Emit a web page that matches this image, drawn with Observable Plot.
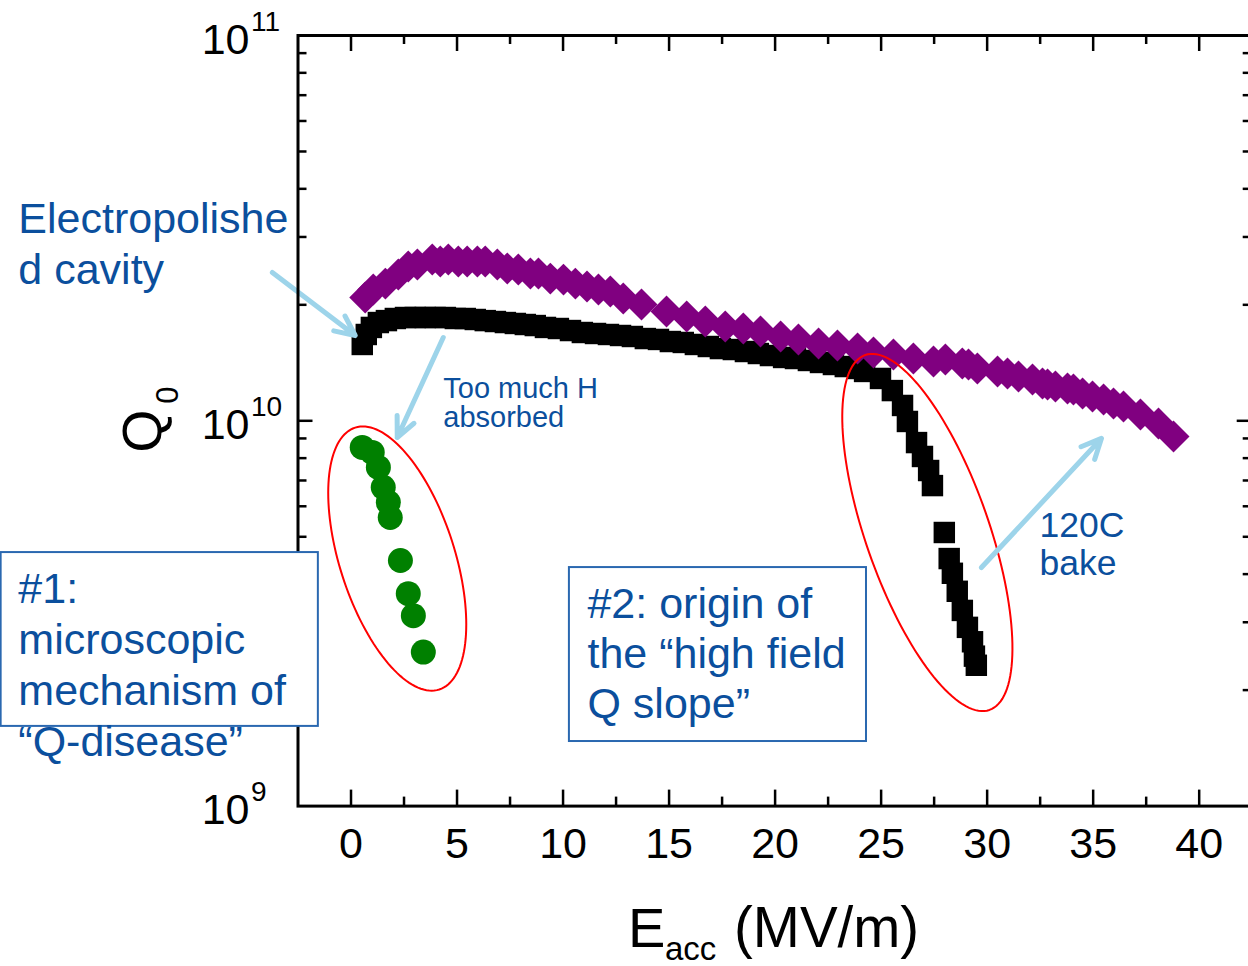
<!DOCTYPE html>
<html>
<head>
<meta charset="utf-8">
<script src="https://cdn.jsdelivr.net/npm/d3@7"></script>
<script src="https://cdn.jsdelivr.net/npm/@observablehq/plot@0.6"></script>
<style>
  html, body { margin: 0; padding: 0; background: #fff; overflow: hidden; }
</style>
</head>
<body>
<div id="chart"></div>
<script>
// Q0 versus accelerating gradient for a 1.3 GHz niobium cavity.

// Electropolished cavity (black squares), including the high-field Q slope
const epE = [0.53, 0.72, 0.96, 1.29, 1.67, 2.09, 2.57, 3.03, 3.50, 3.97, 4.45, 4.92, 5.39, 5.86, 6.33,
  6.81, 7.28, 7.75, 8.22, 8.69, 9.17, 9.78, 10.35, 10.91, 11.53, 12.14, 12.71, 13.27, 13.88, 14.50,
  15.06, 15.67, 16.24, 16.85, 17.42, 18.03, 18.60, 19.21, 19.78, 20.40, 20.96, 21.57, 22.14, 22.75,
  23.31, 23.93, 24.22, 24.97, 25.53, 26.01, 26.24, 26.67, 26.95, 27.24, 27.42, 27.98, 28.21, 28.36,
  28.59, 28.83, 29.07, 29.31, 29.40, 29.49];
const epQ = [1.578e10, 1.675e10, 1.747e10, 1.799e10, 1.820e10, 1.843e10, 1.854e10, 1.854e10, 1.854e10,
  1.854e10, 1.854e10, 1.843e10, 1.843e10, 1.832e10, 1.820e10, 1.810e10, 1.799e10, 1.789e10, 1.778e10,
  1.767e10, 1.747e10, 1.736e10, 1.715e10, 1.695e10, 1.685e10, 1.675e10, 1.665e10, 1.655e10, 1.635e10,
  1.626e10, 1.606e10, 1.597e10, 1.578e10, 1.559e10, 1.540e10, 1.531e10, 1.513e10, 1.495e10, 1.477e10,
  1.460e10, 1.451e10, 1.434e10, 1.417e10, 1.400e10, 1.383e10, 1.367e10, 1.343e10, 1.288e10, 1.198e10,
  1.096e10, 9.96e9, 8.78e9, 8.08e9, 7.43e9, 6.79e9, 5.13e9, 4.39e9, 4.02e9, 3.61e9, 3.22e9, 2.91e9,
  2.67e9, 2.45e9, 2.32e9];

// Same cavity after the 120C bake (purple diamonds)
const bakedE = [0.67, 1.05, 1.62, 2.23, 2.70, 3.13, 3.83, 4.21, 4.59, 5.06, 5.48, 5.96, 6.33, 6.90, 7.37,
  7.89, 8.46, 8.84, 9.40, 10.02, 10.58, 11.13, 11.67, 12.23, 12.84, 13.70, 14.88, 15.83, 16.71, 17.65,
  18.50, 19.31, 20.26, 21.10, 22.05, 22.94, 23.89, 24.64, 25.58, 26.52, 27.47, 28.03, 28.83, 29.12,
  29.54, 30.49, 30.96, 31.48, 32.14, 32.61, 32.85, 33.22, 33.79, 34.07, 34.50, 34.97, 35.49, 35.96,
  36.43, 37.23, 38.08, 38.79];
const bakedQ = [2.089e10, 2.191e10, 2.270e10, 2.398e10, 2.515e10, 2.545e10, 2.622e10, 2.591e10, 2.622e10,
  2.591e10, 2.591e10, 2.591e10, 2.591e10, 2.545e10, 2.485e10, 2.470e10, 2.412e10, 2.412e10, 2.339e10,
  2.325e10, 2.270e10, 2.231e10, 2.191e10, 2.166e10, 2.077e10, 2.004e10, 1.922e10, 1.865e10, 1.810e10,
  1.757e10, 1.736e10, 1.705e10, 1.655e10, 1.626e10, 1.587e10, 1.568e10, 1.540e10, 1.504e10, 1.486e10,
  1.451e10, 1.425e10, 1.442e10, 1.408e10, 1.400e10, 1.367e10, 1.343e10, 1.327e10, 1.303e10, 1.280e10,
  1.250e10, 1.242e10, 1.227e10, 1.213e10, 1.205e10, 1.177e10, 1.156e10, 1.136e10, 1.109e10, 1.089e10,
  1.038e10, 9.84e9, 9.11e9];

// Cavity with too much hydrogen absorbed: "Q-disease" (green circles)
const qdE = [0.53, 1.00, 1.29, 1.52, 1.76, 1.85, 2.33, 2.70, 2.94, 3.41];
const qdQ = [8.53e9, 8.28e9, 7.57e9, 6.72e9, 6.14e9, 5.61e9, 4.34e9, 3.56e9, 3.12e9, 2.51e9];

// Axis ticks
const xMajorTicks = [0, 5, 10, 15, 20, 25, 30, 35, 40];
const xMinorTicks = [2.5, 7.5, 12.5, 17.5, 22.5, 27.5, 32.5, 37.5];
const yMajorTicks = [1e9, 1e10, 1e11];
const yTickExponents = ["9", "10", "11"];
const yMinorTicks = [2e9, 3e9, 4e9, 5e9, 6e9, 7e9, 8e9, 9e9, 2e10, 3e10, 4e10, 5e10, 6e10, 7e10, 8e10, 9e10];

// Annotation anchors, in data units (E in MV/m, Q0)
const ringE = [2.18, 27.18];
const ringQ = [4.39e9, 5.13e9];
const arrowE1 = [-3.71, 4.35, 29.73];
const arrowQ1 = [2.426e10, 1.645e10, 4.16e9];
const arrowE2 = [0.20, 2.18, 35.39];
const arrowQ2 = [1.665e10, 9.05e9, 9.00e9];
const boxE1 = [-16.50, 10.30];
const boxE2 = [-1.54, 24.31];
const boxQ1 = [4.55e9, 4.16e9];
const boxQ2 = [1.61e9, 1.471e9];

const FONT = "Liberation Sans, Arial, Helvetica, sans-serif";
const BLUE_TEXT = "#0b4f9d";
const BLUE_BOX = "#2a68b0";
const ARROW_BLUE = "#9dd4ea";

const W = 1254, H = 966;
const M = {left: 297.5, right: 2.3, top: 35, bottom: 160.4};
const frameW = W - M.left - M.right;
const frameH = H - M.top - M.bottom;

const ep = epE.map((e, i) => ({E: e, Q: epQ[i]}));
const baked = bakedE.map((e, i) => ({E: e, Q: bakedQ[i]}));
const qd = qdE.map((e, i) => ({E: e, Q: qdQ[i]}));
const arrows = arrowE1.map((e, i) => ({x1: e, y1: arrowQ1[i], x2: arrowE2[i], y2: arrowQ2[i]}));
const boxes = boxE1.map((e, i) => ({x1: e, x2: boxE2[i], y1: boxQ1[i], y2: boxQ2[i]}));
const yLabels = yMajorTicks.map((v, i) => ({value: v, exp: yTickExponents[i]}));

// A tilted ellipse drawn as a symbol around its centre (radii in pixels)
function ellipseSymbol(rx, ry, angleDeg) {
  const a = angleDeg * Math.PI / 180, ca = Math.cos(a), sa = Math.sin(a);
  return {
    draw(context) {
      const n = 144;
      for (let i = 0; i <= n; ++i) {
        const t = 2 * Math.PI * i / n;
        const px = rx * Math.cos(t), py = ry * Math.sin(t);
        const x = px * ca - py * sa, y = px * sa + py * ca;
        if (i === 0) context.moveTo(x, y); else context.lineTo(x, y);
      }
      context.closePath();
    }
  };
}

const textCommon = {fontFamily: FONT, textAnchor: "start", lineAnchor: "bottom"};

const chart = Plot.plot({
  width: W,
  height: H,
  marginLeft: M.left,
  marginRight: M.right,
  marginTop: M.top,
  marginBottom: M.bottom,
  style: {maxWidth: "none", background: "white", overflow: "visible"},
  x: {domain: [-2.5, 42.5], axis: null},
  y: {type: "log", domain: [1e9, 1e11], axis: null},
  marks: [
    // data
    Plot.dot(ep, {x: "E", y: "Q", symbol: "square", r: 12.1, fill: "black"}),
    Plot.dot(baked, {x: "E", y: "Q", symbol: "diamond2", r: 14.4, fill: "#800080"}),
    Plot.dot(qd, {x: "E", y: "Q", r: 12.5, fill: "#008000"}),

    // red rings around the two regions of interest
    Plot.dot([{E: ringE[0], Q: ringQ[0]}], {x: "E", y: "Q", r: 1, symbol: ellipseSymbol(137.5, 57.5, 72.2), fill: "none", stroke: "red", strokeWidth: 2}),
    Plot.dot([{E: ringE[1], Q: ringQ[1]}], {x: "E", y: "Q", r: 1, symbol: ellipseSymbol(188, 61.6, 70.7), fill: "none", stroke: "red", strokeWidth: 2}),

    // arrows
    Plot.arrow(arrows, {x1: "x1", y1: "y1", x2: "x2", y2: "y2", stroke: ARROW_BLUE, strokeWidth: 5, headLength: 6.6, headAngle: 50}),

    // frame and inward ticks
    Plot.frame({stroke: "black", strokeWidth: 3}),
    Plot.tickX(xMajorTicks, {x: d => d, insetTop: frameH - 16, stroke: "black", strokeWidth: 2.5}),
    Plot.tickX(xMajorTicks, {x: d => d, insetBottom: frameH - 16, stroke: "black", strokeWidth: 2.5}),
    Plot.tickX(xMinorTicks, {x: d => d, insetTop: frameH - 9, stroke: "black", strokeWidth: 2.5}),
    Plot.tickX(xMinorTicks, {x: d => d, insetBottom: frameH - 9, stroke: "black", strokeWidth: 2.5}),
    Plot.tickY([1e10], {y: d => d, insetRight: frameW - 15, stroke: "black", strokeWidth: 2.5}),
    Plot.tickY([1e10], {y: d => d, insetLeft: frameW - 15, stroke: "black", strokeWidth: 2.5}),
    Plot.tickY(yMinorTicks, {y: d => d, insetRight: frameW - 9, stroke: "black", strokeWidth: 2.5}),
    Plot.tickY(yMinorTicks, {y: d => d, insetLeft: frameW - 9, stroke: "black", strokeWidth: 2.5}),

    // tick labels
    Plot.text(xMajorTicks, {x: d => d, frameAnchor: "bottom", dy: 51.4, lineAnchor: "bottom", fontSize: 43, fontFamily: FONT, fill: "black"}),
    Plot.text(yLabels, {y: "value", text: () => "10", frameAnchor: "left", textAnchor: "end", dx: -48.5, dy: 18, lineAnchor: "bottom", fontSize: 43, fontFamily: FONT, fill: "black"}),
    Plot.text(yLabels, {y: "value", text: "exp", frameAnchor: "left", textAnchor: "start", dx: -47, dy: -5, lineAnchor: "bottom", fontSize: 28, fontFamily: FONT, fill: "black"}),

    // axis titles
    Plot.text(["E"], {frameAnchor: "bottom-left", dx: 330, dy: 140.4, fontSize: 56, fill: "black", ...textCommon}),
    Plot.text(["acc"], {frameAnchor: "bottom-left", dx: 367, dy: 153.5, fontSize: 33, fill: "black", ...textCommon}),
    Plot.text(["(MV/m)"], {frameAnchor: "bottom-left", dx: 436, dy: 140.4, fontSize: 56.5, fill: "black", ...textCommon}),
    Plot.text(["Q"], {frameAnchor: "left", dx: -137.5, dy: 31.7, rotate: -90, fontSize: 55, fill: "black", ...textCommon}),
    Plot.text(["0"], {frameAnchor: "left", dx: -120, dy: -17, rotate: -90, fontSize: 31, fill: "black", ...textCommon}),

    // annotation boxes
    Plot.rect(boxes, {x1: "x1", x2: "x2", y1: "y1", y2: "y2", fill: "white", stroke: BLUE_BOX, strokeWidth: 2}),
    Plot.text(["#1:\nmicroscopic\nmechanism of\n\u201cQ-disease\u201d"], {x: -15.69, y: 1.353e9, fontSize: 43, lineHeight: 1.18, fill: BLUE_TEXT, ...textCommon}),
    Plot.text(["#2: origin of\nthe \u201chigh field\nQ slope\u201d"], {x: 11.15, y: 1.688e9, fontSize: 43, lineHeight: 1.165, fill: BLUE_TEXT, ...textCommon}),

    // free annotations
    Plot.text(["Electropolishe\nd cavity"], {x: -15.69, y: 2.271e10, fontSize: 43, lineHeight: 1.165, fill: BLUE_TEXT, ...textCommon}),
    Plot.text(["Too much H\nabsorbed"], {x: 4.35, y: 9.61e9, fontSize: 29, lineHeight: 1.0, fill: BLUE_TEXT, ...textCommon}),
    Plot.text(["120C\nbake"], {x: 32.47, y: 3.99e9, fontSize: 35.5, lineHeight: 1.07, fill: BLUE_TEXT, ...textCommon})
  ]
});

document.getElementById("chart").appendChild(chart);
</script>
</body>
</html>
